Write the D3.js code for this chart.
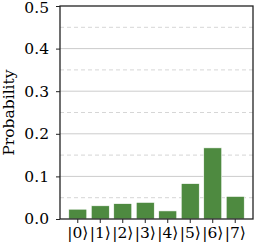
<!DOCTYPE html>
<html><head><meta charset="utf-8">
<script src="https://cdn.jsdelivr.net/npm/d3@7"></script>
<style>body{margin:0;background:#fff}svg{display:block}</style>
</head><body>
<script>
const categories = ["|0⟩","|1⟩","|2⟩","|3⟩","|4⟩","|5⟩","|6⟩","|7⟩"];
const probabilities = [0.023, 0.031, 0.036, 0.039, 0.019, 0.083, 0.167, 0.053];
const yMajorTicks = [0.0, 0.1, 0.2, 0.3, 0.4, 0.5];
const yMinorTicks = [0.05, 0.15, 0.25, 0.35, 0.45];
const yLabel = "Probability";

const W = 258, H = 249;
const m = {left: 60, right: 5, top: 6, bottom: 30};
const svg = d3.select("body").append("svg").attr("width", W).attr("height", H);
const iw = W - m.left - m.right, ih = H - m.top - m.bottom;
const g = svg.append("g").attr("transform", `translate(${m.left},${m.top})`);

const x = d3.scaleBand().domain(categories).range([0, iw]).paddingInner(0.2).paddingOuter(0.39);
const y = d3.scaleLinear().domain([0, 0.5]).range([ih, 0]);

g.selectAll(".minor").data(yMinorTicks).join("line")
  .attr("x1", 0).attr("x2", iw).attr("y1", d => y(d)).attr("y2", d => y(d))
  .attr("stroke", "#d6d6d6").attr("stroke-width", 1).attr("stroke-dasharray", "4,3");
g.selectAll(".major").data(yMajorTicks.slice(1, -1)).join("line")
  .attr("x1", 0).attr("x2", iw).attr("y1", d => y(d)).attr("y2", d => y(d))
  .attr("stroke", "#cccccc").attr("stroke-width", 1);

g.selectAll("rect").data(probabilities).join("rect")
  .attr("x", (d, i) => x(categories[i])).attr("width", x.bandwidth())
  .attr("y", d => y(d)).attr("height", d => ih - y(d))
  .attr("fill", "#4e8a40").attr("stroke", "#ffffff").attr("stroke-width", 0.6);

const font = "'DejaVu Serif', serif";
const ya = g.append("g").call(d3.axisLeft(y).tickValues(yMajorTicks).tickFormat(d3.format(".1f")).tickSize(4).tickPadding(7));
const xa = g.append("g").attr("transform", `translate(0,${ih})`).call(d3.axisBottom(x).tickSize(4).tickPadding(4));
[ya, xa].forEach(a => {
  a.select(".domain").remove();
  a.selectAll("line").attr("stroke", "#222").attr("stroke-width", 1);
  a.selectAll("text").attr("font-family", font).attr("font-size", 15.5).attr("fill", "#000");
});
// keep the top label inside the picture
ya.selectAll(".tick").filter(d => d === 0.5).select("text").attr("dy", "0.45em");

g.append("rect").attr("x", 0).attr("y", 0).attr("width", iw).attr("height", ih)
  .attr("fill", "none").attr("stroke", "#222").attr("stroke-width", 1.3);

svg.append("text").attr("transform", `translate(14,${m.top + ih/2}) rotate(-90)`)
  .attr("text-anchor", "middle").attr("font-family", font).attr("font-size", 15.5).attr("fill", "#000")
  .text(yLabel);
</script>
</body></html>
